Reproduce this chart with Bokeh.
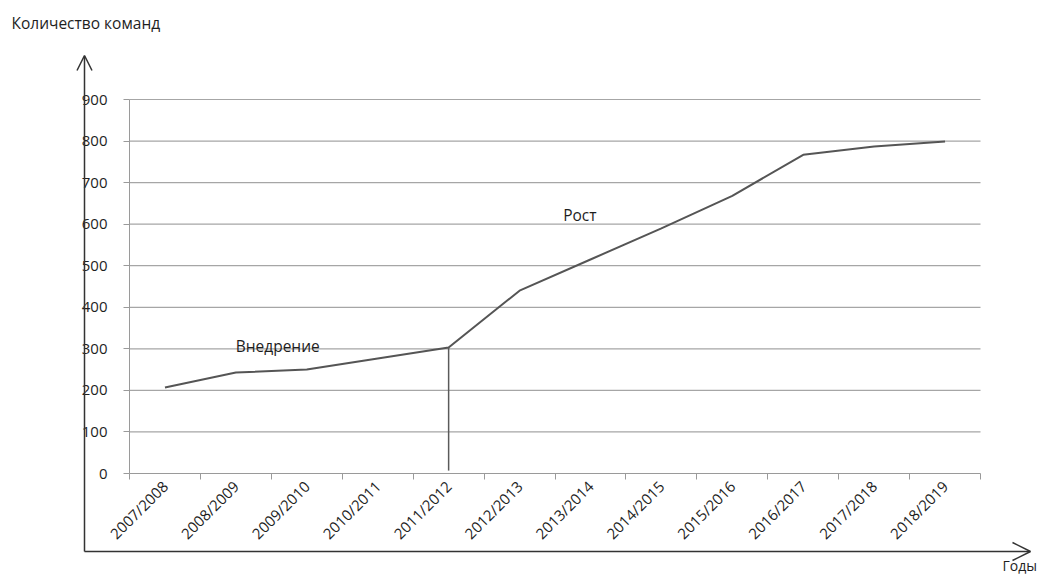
from bokeh.plotting import figure
from bokeh.models import Range1d, FixedTicker, Arrow, OpenHead, Label, ColumnDataSource
from bokeh.embed import file_html
from bokeh.resources import INLINE
from bokeh.core.properties import value
import math

# ---- data ----
categories = ["2007/2008", "2008/2009", "2009/2010", "2010/2011", "2011/2012", "2012/2013",
              "2013/2014", "2014/2015", "2015/2016", "2016/2017", "2017/2018", "2018/2019"]
teams = [207, 243, 250, 277, 303, 440, 515, 590, 668, 767, 787, 799]
y_ticks = [0, 100, 200, 300, 400, 500, 600, 700, 800, 900]
phase_labels = ["Внедрение", "Рост"]
phase_x = [2.09, 6.35]
phase_y = [308, 623]
split_category = "2011/2012"
y_title = "Количество команд"
x_title = "Годы"

FONT = "Open Sans"
TXT = "#1e1e1e"
AX = "#9a9a9a"

n = len(categories)
xs = [i + 0.5 for i in range(n)]

# frame = whole canvas; grid area x 0..12 -> px 129..980, y 0..900 -> px 473..99
px_per_x = (980 - 129) / n
px_per_y = (473 - 99) / 900
x_start = -129 / px_per_x
x_end = n + (1042 - 980) / px_per_x
y_start = -(577 - 473) / px_per_y
y_end = 900 + 99 / px_per_y

p = figure(width=1042, height=577, output_backend="svg", toolbar_location=None,
           x_range=Range1d(x_start, x_end), y_range=Range1d(y_start, y_end),
           min_border=0, min_border_left=0, min_border_right=0, min_border_top=0,
           min_border_bottom=0, title=None)
p.outline_line_color = None
p.background_fill_color = "white"
p.border_fill_color = "white"
p.xgrid.grid_line_color = None
p.ygrid.grid_line_color = None

# y axis (fixed inside the frame at x = 0)
ya = p.yaxis[0]
ya.fixed_location = 0
ya.bounds = (0, 900)
ya.ticker = FixedTicker(ticks=y_ticks)
ya.axis_line_color = AX
ya.major_tick_line_color = AX
ya.major_tick_out = 6
ya.major_tick_in = 0
ya.minor_tick_line_color = None
ya.major_label_standoff = 16
ya.major_label_text_font = FONT
ya.major_label_text_font_size = "15px"
ya.major_label_text_color = TXT

# x axis (fixed inside the frame at y = 0)
xa = p.xaxis[0]
xa.fixed_location = 0
xa.bounds = (0, n)
xa.ticker = FixedTicker(ticks=xs, minor_ticks=list(range(n + 1)))
xa.major_label_overrides = {x: c for x, c in zip(xs, categories)}
xa.major_label_orientation = math.pi / 4
xa.axis_line_color = AX
xa.major_tick_line_color = None
xa.major_tick_out = 0
xa.major_tick_in = 0
xa.minor_tick_line_color = AX
xa.minor_tick_out = 6
xa.minor_tick_in = 0
xa.major_label_standoff = 4
xa.major_label_text_font = FONT
xa.major_label_text_font_size = "15px"
xa.major_label_text_color = TXT

# horizontal grid lines over the category span
gy = y_ticks[1:]
p.segment(x0=[0] * len(gy), y0=gy, x1=[n] * len(gy), y1=gy, line_color="#a6a6a6", line_width=1.2)

# data line
src = ColumnDataSource(dict(x=xs, y=teams))
p.line("x", "y", source=src, line_color="#555555", line_width=2)

# vertical split line
si = categories.index(split_category)
p.segment(x0=[xs[si]], y0=[7], x1=[xs[si]], y1=[teams[si]], line_color="#5a5a5a", line_width=1.5)

# phase labels
p.text(x=phase_x, y=phase_y, text=phase_labels, text_align="center", text_baseline="middle",
       text_font_size="15.5px", text_color=TXT, text_font=value(FONT))

# arrow axes
ax_x = (84 - 129) / px_per_x
ax_y = -(551 - 473) / px_per_y
top_y = (473 - 55) / px_per_y
right_x = (1030 - 129) / px_per_x
p.add_layout(Arrow(x_start=ax_x, y_start=ax_y, x_end=ax_x, y_end=top_y,
                   line_color="#333333", line_width=1.5,
                   end=OpenHead(size=15, line_color="#333333", line_width=1.5)))
p.add_layout(Arrow(x_start=ax_x, y_start=ax_y, x_end=right_x, y_end=ax_y,
                   line_color="#333333", line_width=1.5,
                   end=OpenHead(size=18, line_color="#333333", line_width=1.5)))

p.add_layout(Label(x=(11 - 129) / px_per_x, y=(473 - 22) / px_per_y, text=y_title,
                   text_align="left", text_baseline="middle",
                   text_font=FONT, text_font_size="15.5px", text_color=TXT))
p.add_layout(Label(x=(1002 - 129) / px_per_x, y=-(565 - 473) / px_per_y, text=x_title,
                   text_align="left", text_baseline="middle",
                   text_font=FONT, text_font_size="14px", text_color=TXT))

open("out.html", "w").write(file_html(p, INLINE))
